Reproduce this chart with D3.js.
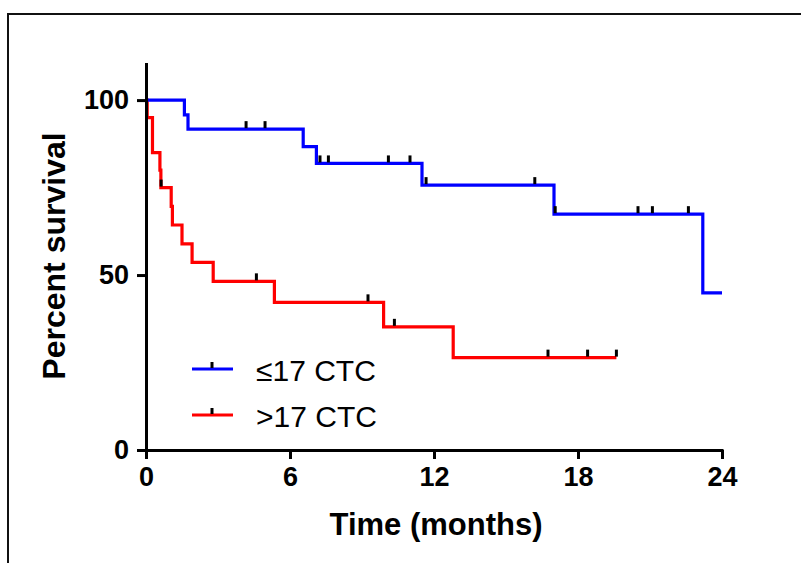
<!DOCTYPE html>
<html>
<head>
<meta charset="utf-8">
<script src="https://cdn.jsdelivr.net/npm/d3@7"></script>
<style>
  html, body { margin: 0; padding: 0; background: #fff; }
  svg { display: block; }
</style>
</head>
<body>
<svg id="chart" width="801" height="563"></svg>
<script>
// ---- data ----
const lowTimes   = [0, 1.6, 1.75, 6.55, 7.1, 11.5, 17.0, 23.2];
const lowSurv    = [100, 95.8, 91.7, 86.7, 81.9, 75.7, 67.4, 44.9];
const lowEnd     = 24;
const lowCensor  = [4.17, 4.96, 7.25, 7.6, 10.1, 11.0, 11.67, 16.2, 17.05, 20.5, 21.1, 22.6];

const highTimes  = [0, 0.05, 0.27, 0.58, 0.62, 1.05, 1.1, 1.5, 1.92, 2.8, 5.35, 9.9, 12.8];
const highSurv   = [100, 95, 85, 80, 75, 69.6, 64.3, 58.9, 53.6, 48.2, 42.2, 35.2, 26.4];
const highEnd    = 19.6;
const highCensor = [0.63, 4.6, 9.25, 10.35, 16.75, 18.4, 19.6];

const seriesNames = ["\u226417 CTC", ">17 CTC"];
const xTicks = [0, 6, 12, 18, 24];
const yTicks = [0, 50, 100];
const xTitle = "Time (months)";
const yTitle = "Percent survival";

// ---- build ----
const svg = d3.select("#chart");
const x = d3.scaleLinear().domain([0, 24]).range([146, 722]);
const y = d3.scaleLinear().domain([0, 110.6]).range([450, 63]);

// frame
svg.append("rect").attr("x", 8).attr("y", 14).attr("width", 800).attr("height", 560)
  .attr("fill", "none").attr("stroke", "#111").attr("stroke-width", 2);

function stepData(times, surv, end) {
  const pts = times.map((t, i) => [t, surv[i]]);
  pts.push([end, surv[surv.length - 1]]);
  return pts;
}
function survAt(times, surv, t) {
  let v = surv[0];
  for (let i = 0; i < times.length; i++) if (times[i] <= t) v = surv[i];
  return v;
}

const series = [
  { name: seriesNames[0], color: "#0000ff", times: lowTimes, surv: lowSurv, end: lowEnd, censor: lowCensor },
  { name: seriesNames[1], color: "#ff0000", times: highTimes, surv: highSurv, end: highEnd, censor: highCensor }
];

const line = d3.line().x(d => x(d[0])).y(d => y(d[1])).curve(d3.curveStepAfter);

[series[1], series[0]].forEach(s => {
  svg.append("path").datum(stepData(s.times, s.surv, s.end))
    .attr("d", line).attr("fill", "none").attr("stroke", s.color)
    .attr("stroke-width", 3.2).attr("stroke-linejoin", "miter");
});
series.forEach(s => {
  svg.selectAll(null).data(s.censor).enter().append("line")
    .attr("x1", d => x(d)).attr("x2", d => x(d))
    .attr("y1", d => y(survAt(s.times, s.surv, d)) - 1)
    .attr("y2", d => y(survAt(s.times, s.surv, d)) - 8)
    .attr("stroke", "#000").attr("stroke-width", 3);
});

// axes
const fontBold = "'Liberation Sans', Arial, sans-serif";
const xAxis = d3.axisBottom(x).tickValues(xTicks).tickSize(9).tickSizeOuter(0).tickPadding(8);
const yAxis = d3.axisLeft(y).tickValues(yTicks).tickSize(9).tickSizeOuter(0).tickPadding(8);

const gx = svg.append("g").attr("transform", "translate(0,450)").call(xAxis);
const gy = svg.append("g").attr("transform", "translate(146,0)").call(yAxis);
[gx, gy].forEach(g => {
  g.select(".domain").attr("stroke", "#000").attr("stroke-width", 3);
  g.selectAll(".tick line").attr("stroke", "#000").attr("stroke-width", 3);
  g.selectAll(".tick text").attr("fill", "#000")
    .style("font-family", fontBold).style("font-weight", "bold").style("font-size", "27px");
});
gx.select(".domain").attr("d", "M144.5,0.5H723.5");
gy.select(".domain").attr("d", "M0.5,63V451.5");

svg.append("text").attr("x", 436).attr("y", 535).attr("text-anchor", "middle")
  .style("font-family", fontBold).style("font-weight", "bold").style("font-size", "31px")
  .text(xTitle);
svg.append("text").attr("transform", "translate(65,256) rotate(-90)").attr("text-anchor", "middle")
  .style("font-family", fontBold).style("font-weight", "bold").style("font-size", "32px")
  .text(yTitle);

// legend
const legY = [369, 415];
series.forEach((s, i) => {
  svg.append("line").attr("x1", 192).attr("x2", 233).attr("y1", legY[i]).attr("y2", legY[i])
    .attr("stroke", s.color).attr("stroke-width", 3.2);
  svg.append("line").attr("x1", 212).attr("x2", 212).attr("y1", legY[i] - 1).attr("y2", legY[i] - 7)
    .attr("stroke", "#000").attr("stroke-width", 3);
  svg.append("text").attr("x", 256).attr("y", legY[i] + 12)
    .style("font-family", fontBold).style("font-size", "30px").attr("fill", "#000")
    .text(s.name);
});
</script>
</body>
</html>
